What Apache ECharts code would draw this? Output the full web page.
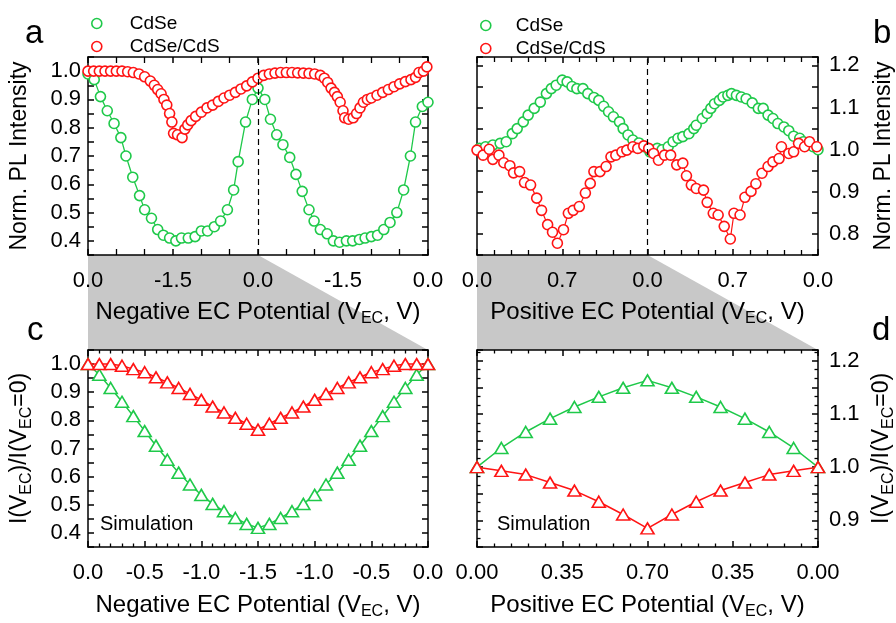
<!DOCTYPE html>
<html><head><meta charset="utf-8">
<script src="https://cdn.jsdelivr.net/npm/echarts@6/dist/echarts.min.js"></script>
<style>html,body{margin:0;padding:0;background:#fff}#c{width:896px;height:623px}</style>
</head><body><div id="c"></div>
<script>
// ---------- Panel a (negative EC, experiment) ----------
const aX_CdSe = [0,0.11,0.22,0.34,0.46,0.58,0.67,0.79,0.91,1.0,1.12,1.23,1.33,1.44,1.55,1.65,1.77,1.89,2.0,2.11,2.23,2.34,2.46,2.57,2.65,2.78,2.9,3.0,3.12,3.22,3.33,3.44,3.56,3.67,3.78,3.9,3.99,4.1,4.22,4.33,4.44,4.56,4.67,4.79,4.89,5.0,5.11,5.22,5.33,5.45,5.57,5.69,5.78,5.9,6.0];
const aY_CdSe = [0.99,0.97,0.91,0.86,0.815,0.765,0.70,0.625,0.56,0.51,0.48,0.44,0.42,0.41,0.40,0.41,0.41,0.415,0.435,0.435,0.45,0.47,0.51,0.58,0.68,0.82,0.90,0.94,0.90,0.83,0.775,0.74,0.695,0.635,0.575,0.51,0.47,0.44,0.425,0.40,0.395,0.40,0.40,0.405,0.41,0.415,0.42,0.44,0.465,0.50,0.58,0.70,0.82,0.875,0.89];
const aX_CdSeCdS = [0,0.1,0.2,0.3,0.4,0.5,0.6,0.7,0.8,0.9,1.0,1.1,1.17,1.23,1.29,1.34,1.39,1.44,1.48,1.51,1.58,1.66,1.71,1.76,1.82,1.9,2.0,2.1,2.2,2.3,2.4,2.5,2.6,2.7,2.8,2.9,3.0,3.1,3.2,3.3,3.4,3.5,3.6,3.7,3.8,3.9,4.0,4.1,4.17,4.23,4.29,4.35,4.4,4.45,4.5,4.53,4.6,4.68,4.74,4.8,4.86,4.93,5.0,5.1,5.2,5.3,5.4,5.5,5.6,5.7,5.78,5.84,5.92,5.98];
const aY_CdSeCdS = [1.0,1.0,1.0,1.0,1.0,1.0,1.0,0.998,0.995,0.99,0.98,0.965,0.95,0.935,0.92,0.90,0.88,0.85,0.82,0.78,0.775,0.765,0.795,0.81,0.825,0.84,0.855,0.87,0.88,0.893,0.905,0.915,0.925,0.937,0.948,0.962,0.975,0.985,0.99,0.993,0.995,0.995,0.995,0.994,0.993,0.992,0.99,0.985,0.975,0.96,0.94,0.925,0.91,0.89,0.86,0.835,0.83,0.835,0.85,0.87,0.89,0.90,0.905,0.915,0.925,0.935,0.945,0.955,0.963,0.97,0.978,0.995,1.0,1.015];
const aTickLabels = ['0.0','-1.5','0.0','-1.5','0.0'];

// ---------- Panel b (positive EC, experiment) ----------
const bX_CdSe = [0.02,0.07,0.13,0.19,0.24,0.29,0.33,0.38,0.42,0.47,0.52,0.57,0.61,0.65,0.70,0.74,0.78,0.82,0.87,0.91,0.96,1.0,1.04,1.08,1.12,1.17,1.2,1.24,1.28,1.33,1.37,1.42,1.48,1.52,1.57,1.61,1.65,1.69,1.74,1.78,1.8,1.85,1.89,1.92,1.95,1.99,2.02,2.06,2.09,2.13,2.17,2.21,2.26,2.31,2.35,2.39,2.43,2.47,2.52,2.56,2.6,2.65,2.68,2.72,2.76,2.8];
const bY_CdSe = [1.003,1.007,1.011,1.015,1.019,1.038,1.05,1.066,1.082,1.098,1.113,1.133,1.145,1.153,1.165,1.161,1.15,1.145,1.145,1.133,1.124,1.117,1.103,1.09,1.078,1.066,1.05,1.035,1.023,1.016,1.007,0.995,1.003,1.0,1.007,1.019,1.027,1.031,1.038,1.05,1.058,1.074,1.086,1.098,1.109,1.117,1.125,1.129,1.133,1.129,1.125,1.121,1.111,1.098,1.098,1.082,1.074,1.062,1.054,1.045,1.032,1.027,1.019,1.013,1.007,1.0];
const bX_CdSeCdS = [0.0,0.05,0.1,0.13,0.18,0.22,0.27,0.3,0.35,0.39,0.44,0.49,0.53,0.58,0.62,0.66,0.71,0.75,0.79,0.84,0.89,0.93,0.96,1.01,1.06,1.1,1.14,1.19,1.23,1.28,1.32,1.37,1.41,1.45,1.49,1.54,1.59,1.64,1.69,1.72,1.76,1.8,1.86,1.89,1.94,1.98,2.03,2.08,2.11,2.16,2.2,2.25,2.29,2.34,2.39,2.43,2.48,2.5,2.56,2.6,2.64,2.69,2.73,2.79];
const bY_CdSeCdS = [0.999,0.987,1.001,0.977,0.987,0.969,0.962,0.945,0.948,0.922,0.916,0.885,0.856,0.822,0.804,0.778,0.81,0.849,0.856,0.865,0.897,0.92,0.948,0.948,0.96,0.983,0.987,0.995,0.999,1.007,1.003,1.009,1.003,0.991,0.975,0.987,0.987,0.964,0.968,0.938,0.916,0.908,0.904,0.875,0.849,0.845,0.818,0.788,0.849,0.845,0.887,0.901,0.919,0.944,0.96,0.971,0.979,1.007,0.991,0.995,1.015,1.007,1.019,1.007];
const bTickLabels = ['0.0','0.7','0.0','0.7','0.0'];

// ---------- Panel c (negative EC, simulation) ----------
const cX = [0,0.1,0.2,0.3,0.4,0.5,0.6,0.7,0.8,0.9,1.0,1.1,1.2,1.3,1.4,1.5,1.6,1.7,1.8,1.9,2.0,2.1,2.2,2.3,2.4,2.5,2.6,2.7,2.8,2.9,3.0];
const cY_CdSe = [1.0,0.962,0.915,0.866,0.815,0.762,0.71,0.66,0.614,0.572,0.535,0.503,0.477,0.453,0.432,0.418,0.432,0.453,0.477,0.503,0.535,0.572,0.614,0.66,0.71,0.762,0.815,0.866,0.915,0.962,1.0];
const cY_CdSeCdS = [1.0,1.0,1.0,0.994,0.982,0.971,0.953,0.935,0.915,0.894,0.873,0.849,0.828,0.809,0.788,0.767,0.788,0.809,0.828,0.849,0.873,0.894,0.915,0.935,0.953,0.971,0.982,0.994,1.0,1.0,1.0];
const cTickLabels = ['0.0','-0.5','-1.0','-1.5','-1.0','-0.5','0.0'];

// ---------- Panel d (positive EC, simulation) ----------
const dX = [0,0.1,0.2,0.3,0.4,0.5,0.6,0.7,0.8,0.9,1.0,1.1,1.2,1.3,1.4];
const dY_CdSe = [1.0,1.036,1.066,1.091,1.113,1.132,1.149,1.163,1.149,1.132,1.113,1.091,1.066,1.036,1.0];
const dY_CdSeCdS = [1.0,0.993,0.986,0.971,0.956,0.935,0.911,0.885,0.911,0.935,0.956,0.971,0.986,0.993,1.0];
const dTickLabels = ['0.00','0.35','0.70','0.35','0.00'];

const FONT = '"Liberation Sans", Arial, Helvetica, sans-serif';
const GREEN = '#1fc94a', RED = '#ff1414', GRAY = '#c8c8c8';
const pairs = (xs, ys) => xs.map((x, i) => [x, ys[i]]);

const mkName = (fs) => ({fontSize: fs, fontFamily: FONT, color: '#000', lineHeight: 30,
  rich: {s: {fontSize: 16, lineHeight: 12, verticalAlign: 'bottom', fontFamily: FONT, color: '#000'}}});

function xPair(gi, max, interval, minorSplit, minorLen, labels, name, gap) {
  const base = {
    gridIndex: gi, type: 'value', min: 0, max: max, interval: interval,
    axisLine: {show: true, onZero: false, lineStyle: {color: '#000', width: 1.5}},
    axisTick: {show: true, inside: true, length: 6, lineStyle: {color: '#000', width: 1.5}},
    minorTick: {show: true, splitNumber: minorSplit, length: minorLen, lineStyle: {color: '#000', width: 1.3}},
    splitLine: {show: false}, minorSplitLine: {show: false}
  };
  return [
    Object.assign({}, base, {
      position: 'bottom', name: name, nameLocation: 'middle', nameGap: gap, nameMoveOverlap: false,
      nameTextStyle: mkName(24),
      axisLabel: {show: true, margin: 15, fontSize: 22, fontFamily: FONT, color: '#000',
        formatter: v => { const k = v / interval; const r = Math.round(k); return Math.abs(k - r) < 1e-6 ? labels[r] : ''; }}
    }),
    Object.assign({}, base, {position: 'top', axisLabel: {show: false}})
  ];
}

function yPair(gi, min, max, minorSplit, labelSide, name, gap) {
  const base = {
    gridIndex: gi, type: 'value', min: min, max: max, interval: 0.05,
    axisLine: {show: true, onZero: false, lineStyle: {color: '#000', width: 1.5}},
    axisTick: {show: true, inside: true, length: 6, lineStyle: {color: '#000', width: 1.5}},
    minorTick: {show: minorSplit > 0, splitNumber: minorSplit || 1, length: 3.5, lineStyle: {color: '#000', width: 1.3}},
    splitLine: {show: false}, minorSplitLine: {show: false}
  };
  const lab = Object.assign({}, base, {
    position: labelSide, name: name, nameLocation: 'middle', nameGap: gap, nameRotate: 90, nameMoveOverlap: false,
    nameTextStyle: mkName(23),
    axisLabel: {show: true, margin: labelSide === 'left' ? 7 : 11, fontSize: 22, fontFamily: FONT, color: '#000',
      formatter: v => { const k = v * 10; const r = Math.round(k); return Math.abs(k - r) < 1e-4 ? (r / 10).toFixed(1) : ''; }}
  });
  const plain = Object.assign({}, base, {position: labelSide === 'left' ? 'right' : 'left', axisLabel: {show: false}});
  return labelSide === 'left' ? [lab, plain] : [plain, lab];
}

const yRange = {a: [0.35, 1.05], b: [0.75, 1.22], c: [0.35, 1.05], d: [0.85, 1.22]};

const negName = 'Negative EC Potential (V{s|EC}, V)';
const posName = 'Positive EC Potential (V{s|EC}, V)';
const ratioName = 'I(V{s|EC})/I(V{s|EC}=0)';

const xAxis = [].concat(
  xPair(0, 6, 1.5, 3, 6, aTickLabels, negName, 42),
  xPair(1, 2.8, 0.7, 5, 5, bTickLabels, posName, 42),
  xPair(2, 3, 0.5, 5, 3.5, cTickLabels, negName, 43),
  xPair(3, 1.4, 0.35, 5, 3.5, dTickLabels, posName, 43)
);
const yAxis = [].concat(
  yPair(0, yRange.a[0], yRange.a[1], 0, 'left', 'Norm. PL Intensity', 53),
  yPair(1, yRange.b[0], yRange.b[1], 0, 'right', 'Norm. PL Intensity', 51),
  yPair(2, yRange.c[0], yRange.c[1], 0, 'left', ratioName, 53),
  yPair(3, yRange.d[0], yRange.d[1], 3, 'right', ratioName, 49)
);

function circ(name, color, xi, yi, data, lw) {
  return {name: name, type: 'line', xAxisIndex: xi, yAxisIndex: yi, data: data,
    symbol: 'circle', symbolSize: 10, showSymbol: true,
    lineStyle: {color: color, width: lw},
    itemStyle: {color: '#fff', borderColor: color, borderWidth: 1.6}};
}
function tri(name, color, xi, yi, data) {
  return {name: name, type: 'line', xAxisIndex: xi, yAxisIndex: yi, data: data,
    symbol: 'triangle', symbolSize: [13, 11], showSymbol: true,
    lineStyle: {color: color, width: 1.5},
    itemStyle: {color: '#fff', borderColor: color, borderWidth: 1.6}};
}
const dash = (xv) => ({silent: true, symbol: ['none', 'none'], label: {show: false},
  lineStyle: {color: '#000', type: [6, 4], width: 1.2}, data: [{xAxis: xv}]});

const aRed = circ('CdSe/CdS', RED, 0, 0, pairs(aX_CdSeCdS, aY_CdSeCdS), 1);
aRed.markLine = dash(3);
const bRed = circ('CdSe/CdS', RED, 2, 2, pairs(bX_CdSeCdS, bY_CdSeCdS), 1.2);
bRed.markLine = dash(1.4);

const legendItems = [
  {name: 'CdSe', icon: 'circle', itemStyle: {color: '#fff', borderColor: GREEN, borderWidth: 1.6}},
  {name: 'CdSe/CdS', icon: 'circle', itemStyle: {color: '#fff', borderColor: RED, borderWidth: 1.6}}
];
const legendBase = {orient: 'vertical', itemHeight: 10, itemGap: 4, selectedMode: false,
  textStyle: {fontSize: 19, fontFamily: FONT, color: '#000'}, data: legendItems};

const option = {
  animation: false,
  backgroundColor: '#fff',
  textStyle: {fontFamily: FONT},
  grid: [
    {left: 88, top: 57, width: 340, height: 198, outerBoundsMode: 'none'},
    {left: 477, top: 57, width: 341, height: 198, outerBoundsMode: 'none'},
    {left: 88, top: 350, width: 340, height: 197, outerBoundsMode: 'none'},
    {left: 477, top: 350, width: 341, height: 197, outerBoundsMode: 'none'}
  ],
  legend: [
    Object.assign({}, legendBase, {left: 86, top: 9, itemWidth: 56}),
    Object.assign({}, legendBase, {left: 475, top: 11, itemWidth: 50})
  ],
  xAxis: xAxis,
  yAxis: yAxis,
  series: [
    circ('CdSe', GREEN, 0, 0, pairs(aX_CdSe, aY_CdSe), 1.3),
    aRed,
    circ('CdSe', GREEN, 2, 2, pairs(bX_CdSe, bY_CdSe), 1.2),
    bRed,
    tri('CdSe sim', GREEN, 4, 4, pairs(cX, cY_CdSe)),
    tri('CdSe/CdS sim', RED, 4, 4, pairs(cX, cY_CdSeCdS)),
    tri('CdSe sim d', GREEN, 6, 6, pairs(dX, dY_CdSe)),
    tri('CdSe/CdS sim d', RED, 6, 6, pairs(dX, dY_CdSeCdS))
  ]
};

const chart = echarts.init(document.getElementById('c'), null, {renderer: 'canvas'});
chart.setOption(option);

const px = (idx, pt) => chart.convertToPixel({xAxisIndex: idx, yAxisIndex: idx}, pt);
const polyAC = [px(0, [0, yRange.a[0]]), px(0, [3, yRange.a[0]]), px(4, [3, yRange.c[1]]), px(4, [0, yRange.c[1]])];
const polyBD = [px(2, [0, yRange.b[0]]), px(2, [1.4, yRange.b[0]]), px(6, [1.4, yRange.d[1]]), px(6, [0, yRange.d[1]])];
const cTL = px(4, [0, yRange.c[0]]);
const dTL = px(6, [0, yRange.d[0]]);

const letter = (t, x, y) => ({type: 'text', x: x, y: y, z: 5,
  style: {text: t, fontSize: 33, fontFamily: FONT, fill: '#000', align: 'left', verticalAlign: 'middle'}});
chart.setOption({
  graphic: {elements: [
    {type: 'polygon', z: -1, shape: {points: polyAC}, style: {fill: GRAY}},
    {type: 'polygon', z: -1, shape: {points: polyBD}, style: {fill: GRAY}},
    letter('a', 25, 34), letter('b', 873, 34), letter('c', 27, 331), letter('d', 872, 331),
    {type: 'text', x: cTL[0] + 12, y: cTL[1] - 23, z: 5,
      style: {text: 'Simulation', fontSize: 20, fontFamily: FONT, fill: '#000', verticalAlign: 'middle'}},
    {type: 'text', x: dTL[0] + 20, y: dTL[1] - 23, z: 5,
      style: {text: 'Simulation', fontSize: 20, fontFamily: FONT, fill: '#000', verticalAlign: 'middle'}}
  ]}
});
</script>
</body></html>
